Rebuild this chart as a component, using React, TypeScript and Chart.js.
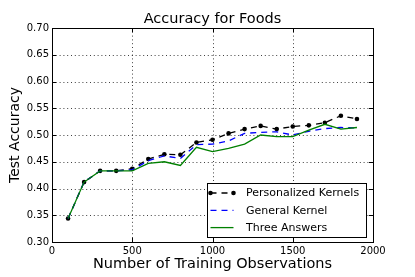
import { useEffect, useRef } from "react";
import { Chart, registerables } from "chart.js";

Chart.register(...registerables);

const observations = [100, 200, 300, 400, 500, 600, 700, 800, 900, 1000, 1100, 1200, 1300, 1400, 1500, 1600, 1700, 1800, 1900];
const personalizedKernels = [0.344, 0.412, 0.433, 0.433, 0.437, 0.455, 0.464, 0.463, 0.486, 0.491, 0.503, 0.511, 0.517, 0.511, 0.516, 0.518, 0.523, 0.536, 0.530];
const generalKernel = [0.344, 0.412, 0.433, 0.433, 0.435, 0.452, 0.461, 0.456, 0.482, 0.483, 0.489, 0.503, 0.505, 0.506, 0.500, 0.507, 0.512, 0.514, 0.513];
const threeAnswers = [0.344, 0.412, 0.433, 0.433, 0.433, 0.447, 0.450, 0.443, 0.477, 0.469, 0.475, 0.483, 0.500, 0.497, 0.497, 0.509, 0.520, 0.511, 0.514];
const seriesNames = ["Personalized Kernels", "General Kernel", "Three Answers"];
const chartTitle = "Accuracy for Foods";
const xMin = 0, xMax = 2000, xStep = 500;
const yMin = 0.3, yMax = 0.7, yStep = 0.05;

const FONT = "'DejaVu Sans', sans-serif";

const toPoints = (ys: number[]) => ys.map((y, i) => ({ x: observations[i], y }));

const gridPlugin = {
  id: "dottedGrid",
  beforeDatasetsDraw(chart: any) {
    const { ctx, chartArea: a, scales } = chart;
    ctx.save();
    ctx.strokeStyle = "rgba(0,0,0,0.75)";
    ctx.lineWidth = 1;
    ctx.setLineDash([1, 2.8]);
    ctx.beginPath();
    scales.x.ticks.forEach((t: any) => {
      const px = Math.round(scales.x.getPixelForValue(t.value)) + 0.5;
      ctx.moveTo(px, a.top); ctx.lineTo(px, a.bottom);
    });
    scales.y.ticks.forEach((t: any) => {
      const py = Math.round(scales.y.getPixelForValue(t.value)) + 0.5;
      ctx.moveTo(a.left, py); ctx.lineTo(a.right, py);
    });
    ctx.stroke();
    ctx.restore();
  },
};

const framePlugin = {
  id: "frame",
  afterDraw(chart: any) {
    const { ctx, chartArea: a, scales } = chart;
    ctx.save();
    ctx.strokeStyle = "#000";
    ctx.lineWidth = 1;
    ctx.beginPath();
    const tl = 4;
    scales.x.ticks.forEach((t: any) => {
      const px = Math.round(scales.x.getPixelForValue(t.value)) + 0.5;
      ctx.moveTo(px, a.bottom); ctx.lineTo(px, a.bottom - tl);
      ctx.moveTo(px, a.top); ctx.lineTo(px, a.top + tl);
    });
    scales.y.ticks.forEach((t: any) => {
      const py = Math.round(scales.y.getPixelForValue(t.value)) + 0.5;
      ctx.moveTo(a.left, py); ctx.lineTo(a.left + tl, py);
      ctx.moveTo(a.right, py); ctx.lineTo(a.right - tl, py);
    });
    ctx.stroke();
    ctx.strokeRect(Math.round(a.left) + 0.5, Math.round(a.top) + 0.5, Math.round(a.right - a.left), Math.round(a.bottom - a.top));
    ctx.fillStyle = "#000";
    ctx.font = "14.5px " + FONT;
    ctx.textAlign = "center";
    ctx.textBaseline = "alphabetic";
    ctx.fillText(chartTitle, (a.left + a.right) / 2, 23);
    ctx.restore();
  },
};

const legendPlugin = {
  id: "boxLegend",
  afterDatasetsDraw(chart: any) {
    const { ctx, chartArea: a } = chart;
    const w = 159, h = 54;
    const left = Math.round(a.right - 7 - w) + 0.5;
    const top = Math.round(a.bottom - 5 - h) + 0.5;
    ctx.save();
    ctx.fillStyle = "#fff";
    ctx.strokeStyle = "#000";
    ctx.lineWidth = 1;
    ctx.fillRect(left, top, w, h);
    ctx.strokeRect(left, top, w, h);
    ctx.font = "11px " + FONT;
    ctx.textBaseline = "middle";
    ctx.textAlign = "left";
    chart.data.datasets.forEach((ds: any, i: number) => {
      const y = top + 9.5 + i * 17.3;
      const x0 = left + 3, x1 = left + 26;
      ctx.strokeStyle = ds.borderColor;
      ctx.lineWidth = ds.borderWidth;
      ctx.setLineDash(ds.borderDash || []);
      ctx.beginPath();
      ctx.moveTo(x0, y); ctx.lineTo(x1, y);
      ctx.stroke();
      ctx.setLineDash([]);
      if (ds.pointRadius > 0) {
        ctx.fillStyle = ds.pointBackgroundColor;
        [x0, x1].forEach((px) => {
          ctx.beginPath();
          ctx.arc(px, y, ds.pointRadius, 0, Math.PI * 2);
          ctx.fill();
        });
      }
      ctx.fillStyle = "#000";
      ctx.fillText(ds.label, left + 38.5, y + 0.5);
    });
    ctx.restore();
  },
};

export default function App() {
  const canvasRef = useRef<HTMLCanvasElement | null>(null);

  useEffect(() => {
    if (!canvasRef.current) return;
    const chart = new Chart(canvasRef.current, {
      type: "line",
      data: {
        datasets: [
          {
            label: seriesNames[0],
            data: toPoints(personalizedKernels),
            borderColor: "#000000",
            backgroundColor: "#000000",
            pointBackgroundColor: "#000000",
            pointBorderColor: "#000000",
            pointRadius: 2.3,
            pointBorderWidth: 0,
            borderWidth: 1.3,
            borderDash: [6, 5],
            order: 3,
          },
          {
            label: seriesNames[1],
            data: toPoints(generalKernel),
            borderColor: "#0000ff",
            backgroundColor: "#0000ff",
            pointRadius: 0,
            borderWidth: 1.3,
            borderDash: [6, 5],
            order: 2,
          },
          {
            label: seriesNames[2],
            data: toPoints(threeAnswers),
            borderColor: "#008000",
            backgroundColor: "#008000",
            pointRadius: 0,
            borderWidth: 1.3,
            order: 1,
          },
        ] as any,
      },
      options: {
        responsive: false,
        animation: false,
        layout: { padding: { top: 28, right: 42, left: 0, bottom: 0 } },
        plugins: {
          legend: { display: false },
          tooltip: { enabled: false },
          title: { display: false },
        },
        scales: {
          x: {
            type: "linear",
            min: xMin,
            max: xMax,
            afterFit: (s: any) => { s.height = 35; },
            ticks: {
              stepSize: xStep,
              color: "#000",
              font: { family: FONT, size: 10 },
              padding: 3,
              maxRotation: 0,
              callback: (v: any) => String(v),
            },
            grid: { display: false, drawTicks: false },
            border: { display: false },
            title: {
              display: true,
              text: "Number of Training Observations",
              color: "#000",
              font: { family: FONT, size: 14.5 },
              padding: { top: 0, bottom: 4 },
            },
          },
          y: {
            type: "linear",
            min: yMin,
            max: yMax,
            afterFit: (s: any) => { s.width = 52; },
            ticks: {
              stepSize: yStep,
              color: "#000",
              font: { family: FONT, size: 10 },
              padding: 3,
              callback: (v: any) => Number(v).toFixed(2),
            },
            grid: { display: false, drawTicks: false },
            border: { display: false },
            title: {
              display: true,
              text: "Test Accuracy",
              color: "#000",
              font: { family: FONT, size: 14 },
              padding: { top: 7, bottom: 0 },
            },
          },
        },
      } as any,
      plugins: [gridPlugin, legendPlugin, framePlugin],
    });
    return () => chart.destroy();
  }, []);

  return (
    <div style={{ position: "fixed", left: 0, top: 0, width: 415, height: 277, background: "#fff" }}>
      <canvas ref={canvasRef} width={415} height={277} />
    </div>
  );
}
